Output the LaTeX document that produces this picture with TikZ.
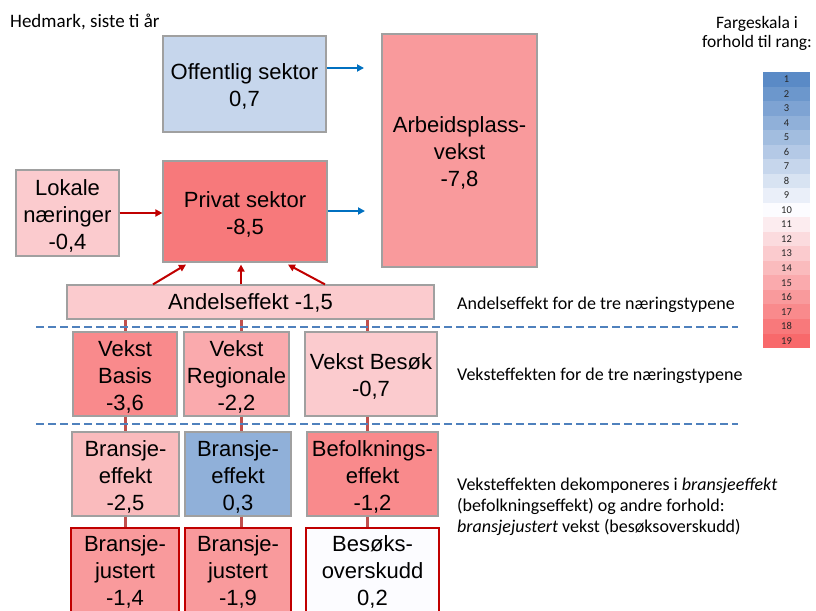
\documentclass[tikz,border=0pt]{standalone}
\usepackage{fontspec}
\setmainfont{Liberation Sans}
\newfontfamily\calib{Carlito}
\usetikzlibrary{arrows.meta}
\newcommand{\toplift}{\rule{0pt}{21pt}}
\definecolor{boxgray}{RGB}{160,160,160}
\definecolor{rA}{RGB}{144,176,217}
\definecolor{rB}{RGB}{198,214,236}
\definecolor{rW}{RGB}{252,252,255}
\definecolor{rM}{RGB}{251,203,206}
\definecolor{rN}{RGB}{250,187,189}
\definecolor{rO}{RGB}{250,170,173}
\definecolor{rP}{RGB}{249,154,156}
\definecolor{rQ}{RGB}{249,138,140}
\definecolor{rR}{RGB}{247,121,123}
\definecolor{scblue}{RGB}{90,138,198}
\definecolor{scwhite}{RGB}{252,252,255}
\definecolor{scred}{RGB}{248,105,107}
\definecolor{darkred}{RGB}{192,0,0}
\definecolor{connred}{RGB}{192,80,77}
\definecolor{arrblue}{RGB}{0,112,192}
\definecolor{dashblue}{RGB}{79,129,189}
\begin{document}
\begin{tikzpicture}[x=1pt,y=-1pt,
  box/.style={draw=boxgray, line width=1.2pt, inner sep=0pt, align=center,
    font=\fontsize{22}{27}\selectfont},
  redbox/.style={box, draw=darkred, line width=2.4pt},
  conn/.style={draw=connred, line width=3pt},
  redarrow/.style={draw=darkred, line width=2pt, -{Triangle[length=7pt,width=7pt]}},
  bluearrow/.style={draw=arrblue, line width=2pt, -{Triangle[length=7pt,width=7pt]}},
  sepline/.style={draw=dashblue, line width=2.5pt, dash pattern=on 8pt off 4pt},
  note/.style={font=\calib\fontsize{18}{21}\selectfont, inner sep=0pt},
  scalenum/.style={font=\calib\fontsize{10.5}{11}\selectfont, text=black!85, inner sep=0pt}
]
\useasboundingbox (0,0) rectangle (816,610);

% boxes
\node[box, fill=rB, minimum width=163, minimum height=96] (off) at (244.5,84) {\toplift Offentlig sektor\\0,7};
\node[box, fill=rP, minimum width=155, minimum height=233] (arb) at (459.5,150.5) {\toplift Arbeidsplass-\\vekst\\-7,8};
\node[box, fill=rM, minimum width=103, minimum height=86] (lok) at (67.5,213) {\toplift Lokale\\næringer\\-0,4};
\node[box, fill=rR, minimum width=164, minimum height=101] (priv) at (245,211.5) {\toplift Privat sektor\\-8,5};
\node[box, fill=rM, minimum width=367, minimum height=34] (andel) at (250.5,302) {\rule{0pt}{18pt}Andelseffekt -1,5};

\node[box, fill=rQ, minimum width=104, minimum height=84] (vb) at (125,374) {\toplift Vekst\\Basis\\-3,6};
\node[box, fill=rO, minimum width=105, minimum height=84] (vr) at (236.5,374) {\toplift Vekst\\Regionale\\-2,2};
\node[box, fill=rM, minimum width=132, minimum height=84] (vbe) at (371,374) {\toplift Vekst Besøk\\-0,7};

\node[box, fill=rN, minimum width=107, minimum height=84] (be1) at (125.5,474) {\toplift Bransje-\\effekt\\-2,5};
\node[box, fill=rA, minimum width=106, minimum height=84] (be2) at (238,474) {\toplift Bransje-\\effekt\\0,3};
\node[box, fill=rQ, minimum width=131, minimum height=84] (bef) at (372.5,474) {\toplift Befolknings-\\effekt\\-1,2};

\node[redbox, fill=rP, minimum width=108, minimum height=88] (bj1) at (125,572) {Bransje-\\justert\\-1,4};
\node[redbox, fill=rP, minimum width=106, minimum height=88] (bj2) at (238,572) {Bransje-\\justert\\-1,9};
\node[redbox, fill=rW, minimum width=133, minimum height=88] (bes) at (372.5,572) {Besøks-\\overskudd\\0,2};

% vertical connectors
\foreach \xx/\a/\b/\c in {125/vb/be1/bj1, 241/vr/be2/bj2, 367/vbe/bef/bes}{
  \draw[conn] (andel.south -| \xx,0) -- (\a.north -| \xx,0);
  \draw[conn] (\a.south -| \xx,0) -- (\b.north -| \xx,0);
  \draw[conn] (\b.south -| \xx,0) -- (\c.north -| \xx,0);
}

% dashed separators
\draw[sepline] (36,327) -- (738,327);
\draw[sepline] (36,424) -- (738,424);

% arrows
\draw[redarrow] (lok.east) -- (lok.east -| priv.west);
\coordinate (t1) at (364,68);
\coordinate (t2) at (365,211);
\draw[bluearrow] (off.east |- t1) -- (t1);
\draw[bluearrow] (priv.east |- t2) -- (t2);
\draw[redarrow] (andel.north -| 153,0) -- ([yshift=-2pt]priv.south -| 186,0);
\draw[redarrow] (andel.north -| 241,0) -- ([yshift=-2pt]priv.south -| 241,0);
\draw[redarrow] (andel.north -| 325,0) -- ([yshift=-2pt]priv.south -| 288,0);

% texts
\node[note, font=\calib\fontsize{19}{21}\selectfont, anchor=west] (hed) at (10,22) {Hedmark, siste ti år};
\node[note, font=\calib\fontsize{17.5}{19}\selectfont, align=center] (farg) at (757,33) {Fargeskala i\\forhold til rang:};
\node[note, anchor=west] (n1) at (457,305) {Andelseffekt for de tre næringstypene};
\node[note, anchor=west] (n2) at (457,376) {Veksteffekten for de tre næringstypene};
\node[note, anchor=west, align=left] (n3) at (457,507) {Veksteffekten dekomponeres i \textit{bransjeeffekt}\\(befolkningseffekt) og andre forhold:\\\textit{bransjejustert} vekst (besøksoverskudd)};

% colour scale
\foreach \i in {1,...,19}{
  \pgfmathsetmacro{\ytop}{72+(\i-1)*14.53}
  \pgfmathsetmacro{\ybot}{72+\i*14.53}
  \ifnum\i<10
    \pgfmathsetmacro{\pp}{(\i-1)/9*100}
    \colorlet{cellc}{scwhite!\pp!scblue}
  \else
    \pgfmathsetmacro{\pp}{(\i-10)/9*100}
    \colorlet{cellc}{scred!\pp!scwhite}
  \fi
  \fill[cellc] (763,\ytop) rectangle (810,\ybot);
  \node[scalenum] at (786.5,{(\ytop+\ybot)/2}) {\i};
}
\end{tikzpicture}
\end{document}
